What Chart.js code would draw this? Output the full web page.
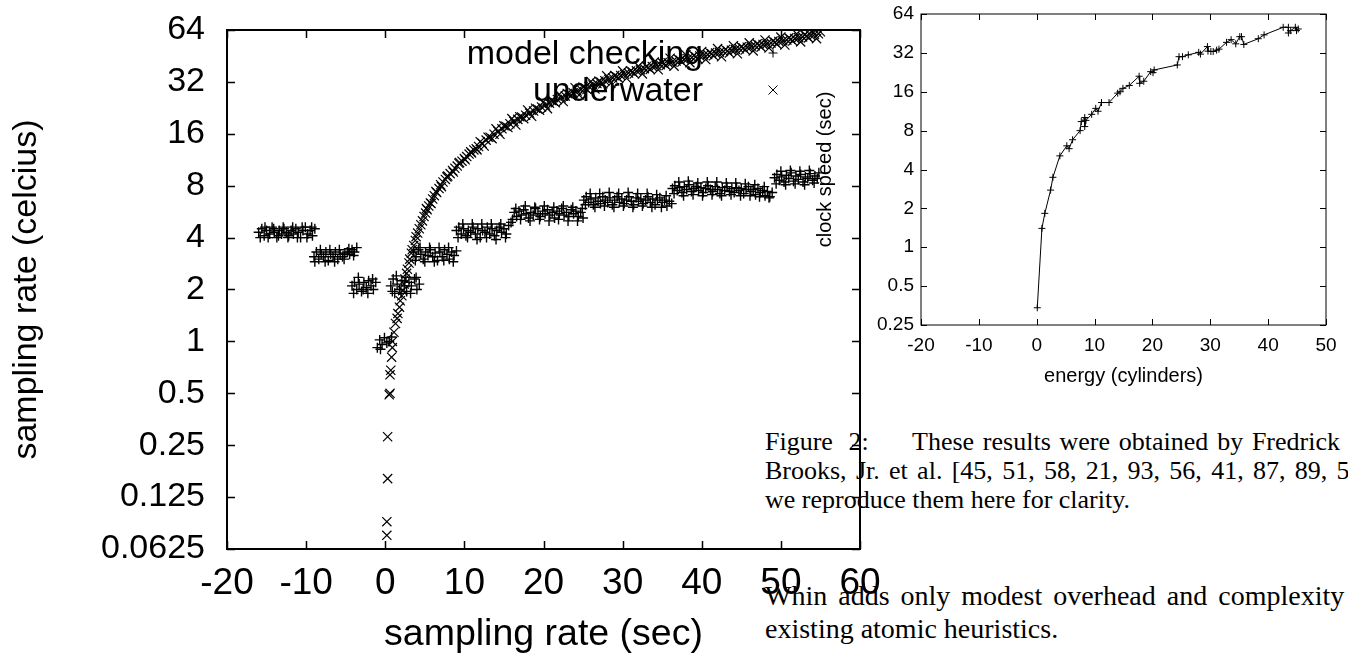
<!DOCTYPE html>
<html>
<head>
<meta charset="utf-8">
<script src="https://cdn.jsdelivr.net/npm/chart.js@4.4.1/dist/chart.umd.min.js"></script>
<style>
  html, body { margin: 0; padding: 0; background: #fff; }
  body { width: 1348px; height: 657px; overflow: hidden; position: relative; }
  canvas { position: absolute; }
  #mainChart { left: 0; top: 0; z-index: 2; }
  #sideChart { left: 790px; top: 0; z-index: 3; }
  .cap { position: absolute; left: 765px; font-family: "Liberation Serif", "Times New Roman", serif;
         font-size: 26px; line-height: 29px; white-space: nowrap; color: #000; z-index: 1; }
  .body { font-size: 28px; }
</style>
</head>
<body>
<div class="cap" style="top:427px; word-spacing:9px;">Figure 2:</div>
<div class="cap" style="top:427px; left:912px; width:428px; white-space:normal; text-align:justify; text-align-last:justify;">These results were obtained by Fredrick</div>
<div class="cap" style="top:456px; word-spacing:2.8px;">Brooks, Jr. et al. [45, 51, 58, 21, 93, 56, 41, 87, 89, 53],</div>
<div class="cap" style="top:485px;">we reproduce them here for clarity.</div>
<div class="cap body" style="top:581px; word-spacing:4px;">Whin adds only modest overhead and complexity to</div>
<div class="cap body" style="top:614px;">existing atomic heuristics.</div>

<canvas id="mainChart" width="900" height="657"></canvas>
<canvas id="sideChart" width="558" height="400"></canvas>

<script>
  "use strict";

  // ---- main chart data ----
  var mainXTicks = [-20, -10, 0, 10, 20, 30, 40, 50, 60];
  var mainYTicks = [0.0625, 0.125, 0.25, 0.5, 1, 2, 4, 8, 16, 32, 64];
  var mainYLabels = ["0.0625", "0.125", "0.25", "0.5", "1", "2", "4", "8", "16", "32", "64"];
  var seriesNames = ["model checking", "underwater"];

  // "+" points (model checking)
  var checkingPts = [
    [-16.0,4.3],[-15.6,4.5],[-15.3,4.1],[-15.0,4.4],[-14.6,4.2],[-14.3,4.6],[-14.0,4.3],[-13.7,4.0],
    [-13.4,4.4],[-13.1,4.2],[-12.8,4.5],[-12.5,4.3],[-12.2,4.1],[-11.9,4.4],[-11.6,4.2],[-11.3,4.5],
    [-11.0,4.3],[-10.7,4.0],[-10.4,4.4],[-10.1,4.6],[-9.8,4.2],[-9.5,4.4],[-9.2,4.1],[-8.9,4.5],
    [-15.8,4.0],[-15.2,4.6],[-14.8,4.0],[-14.1,4.5],[-13.5,4.1],[-12.9,4.6],[-12.3,4.0],[-11.7,4.6],
    [-11.1,4.0],[-10.5,4.6],[-9.9,4.0],[-9.3,4.6],
    [-9.0,3.1],[-8.7,3.3],[-8.4,3.0],[-8.1,3.2],[-7.8,3.1],[-7.5,3.3],[-7.2,2.95],[-6.9,3.2],
    [-6.6,3.1],[-6.3,3.3],[-6.0,3.0],[-5.7,3.2],[-5.4,3.1],[-5.1,3.25],[-4.8,3.3],[-4.5,3.2],
    [-4.2,3.4],[-3.9,3.3],[-3.6,3.5],
    [-8.9,2.9],[-8.2,3.4],[-7.6,2.9],[-7.0,3.4],[-6.4,2.9],[-5.8,3.4],[-5.2,3.0],[-4.6,3.45],[-4.0,3.15],
    [-4.2,2.1],[-3.9,2.2],[-3.6,2.0],[-3.3,2.15],[-3.0,1.95],[-2.7,2.2],[-2.4,2.05],[-2.1,2.25],
    [-1.8,2.1],[-1.5,2.0],[-1.2,2.2],
    [-4.0,1.9],[-3.4,2.35],[-2.8,2.0],[-2.2,1.9],[-1.6,2.3],
    [-1.0,0.92],[-0.7,1.02],[-0.4,0.96],[-0.1,1.05],[0.2,0.98],[0.5,1.0],[0.8,1.06],[-0.6,0.9],
    [0.7,2.1],[1.0,2.3],[1.2,1.9],[1.5,2.15],[1.8,2.0],[2.1,2.25],[2.4,2.1],[2.7,1.95],
    [3.0,2.2],[3.3,2.1],[3.7,2.3],[4.0,2.0],[4.3,2.15],
    [0.9,1.95],[1.4,2.4],[2.0,1.9],[2.6,2.35],[3.2,1.9],[3.9,2.35],
    [3.6,3.3],[3.9,3.1],[4.2,3.4],[4.5,3.2],[4.8,3.0],[5.1,3.3],[5.4,3.15],[5.7,3.4],
    [6.0,3.1],[6.3,3.25],[6.6,2.95],[6.9,3.3],[7.2,3.1],[7.5,3.4],[7.8,3.2],[8.1,3.0],
    [8.4,3.3],[8.7,3.15],[9.0,3.35],
    [3.8,2.95],[4.4,3.5],[5.0,2.9],[5.6,3.5],[6.2,2.9],[6.8,3.5],[7.4,2.95],[8.0,3.5],[8.6,2.9],
    [9.0,4.4],[9.3,4.6],[9.6,4.2],[9.9,4.5],[10.2,4.1],[10.5,4.4],[10.8,4.3],[11.1,4.6],
    [11.4,4.2],[11.7,4.5],[12.0,4.0],[12.3,4.4],[12.6,4.3],[12.9,4.6],[13.2,4.2],[13.5,4.5],
    [13.8,4.1],[14.1,4.4],[14.4,4.6],[14.7,4.3],[15.0,4.5],[15.3,4.2],[15.6,4.7],[15.9,4.9],[16.1,5.1],
    [9.2,4.0],[9.8,4.8],[10.4,4.0],[11.0,4.8],[11.6,3.9],[12.2,4.8],[12.8,4.0],[13.4,4.8],
    [14.0,3.9],[14.6,4.8],[15.2,4.0],
    [16.3,5.6],[16.6,5.3],[16.9,5.7],[17.2,5.4],[17.5,5.8],[17.8,5.5],[18.1,5.2],[18.4,5.6],
    [18.7,5.4],[19.0,5.9],[19.3,5.5],[19.6,5.3],[19.9,5.7],[20.2,5.5],[20.5,5.8],[20.8,5.4],
    [21.1,5.6],[21.4,5.2],[21.7,5.7],[22.0,5.5],[22.3,5.9],[22.6,5.4],[22.9,5.6],[23.2,5.3],
    [23.5,5.8],[23.8,5.5],[24.1,5.7],[24.4,5.3],[24.7,5.6],[25.0,5.2],
    [16.5,5.9],[17.1,5.1],[17.7,6.1],[18.3,5.0],[18.9,6.0],[19.5,5.1],[20.1,6.1],[20.7,5.0],
    [21.3,6.0],[21.9,5.1],[22.5,6.1],[23.1,5.0],[23.7,6.0],[24.3,5.0],[24.9,5.9],
    [25.1,6.6],[25.4,6.9],[25.7,6.4],[26.0,6.7],[26.3,6.2],[26.6,6.8],[26.9,6.5],[27.2,6.3],
    [27.5,6.9],[27.8,6.6],[28.1,6.4],[28.4,6.8],[28.7,6.2],[29.0,6.6],[29.3,6.9],[29.6,6.4],
    [29.9,6.7],[30.2,6.3],[30.5,6.6],[30.8,6.9],[31.1,6.5],[31.4,6.2],[31.7,6.8],[32.0,6.5],
    [32.3,6.7],[32.6,6.3],[32.9,6.6],[33.2,6.9],[33.5,6.4],[33.8,6.7],[34.1,6.2],[34.4,6.6],
    [34.7,6.8],[35.0,6.4],[35.3,6.6],[35.6,6.1],[35.9,6.5],[36.2,6.3],
    [25.3,6.2],[25.9,7.2],[26.5,6.0],[27.1,7.2],[27.7,6.1],[28.3,7.3],[28.9,6.0],[29.5,7.2],
    [30.1,6.1],[30.7,7.3],[31.3,6.0],[31.9,7.2],[32.5,6.1],[33.1,7.2],[33.7,6.0],[34.3,7.1],
    [34.9,6.0],[35.5,7.0],
    [36.3,7.7],[36.6,8.0],[36.9,7.5],[37.2,7.8],[37.5,7.3],[37.8,7.9],[38.1,7.6],[38.4,8.1],
    [38.7,7.4],[39.0,7.7],[39.3,7.9],[39.6,7.5],[39.9,7.8],[40.2,7.3],[40.5,7.7],[40.8,8.0],
    [41.1,7.6],[41.4,7.4],[41.7,7.9],[42.0,7.6],[42.3,7.2],[42.6,7.8],[42.9,7.5],[43.2,7.9],
    [43.5,7.4],[43.8,7.7],[44.1,7.3],[44.4,7.8],[44.7,7.5],[45.0,7.7],[45.3,7.2],[45.6,7.6],
    [45.9,7.9],[46.2,7.4],[46.5,7.6],[46.8,7.1],[47.1,7.7],[47.4,7.3],[47.7,7.5],[48.0,7.0],
    [48.3,7.4],[48.6,6.9],[48.9,7.3],
    [36.5,7.2],[37.1,8.4],[37.7,7.0],[38.3,8.5],[38.9,7.1],[39.5,8.3],[40.1,7.0],[40.7,8.4],
    [41.3,7.1],[41.9,8.4],[42.5,7.0],[43.1,8.3],[43.7,7.1],[44.3,8.3],[44.9,7.0],[45.5,8.2],
    [46.1,7.0],[46.7,8.1],[47.3,6.9],[47.9,7.9],[48.5,6.8],
    [49.2,8.9],[49.5,9.3],[49.8,8.6],[50.1,9.0],[50.4,8.4],[50.7,9.2],[51.0,8.8],[51.3,9.5],
    [51.6,8.5],[51.9,9.1],[52.2,8.7],[52.5,9.3],[52.8,8.4],[53.1,9.0],[53.4,8.8],[53.7,9.4],
    [54.0,8.6],[54.3,9.1],[54.6,8.8],
    [49.4,8.2],[50.0,9.7],[50.6,8.1],[51.2,9.8],[51.8,8.2],[52.4,9.7],[53.0,8.1],[53.6,9.8],
    [54.2,8.3],[54.8,9.5]
  ];

  // "x" points (underwater)
  var underwaterPts = [
    [0.2,0.075],[0.2,0.09],[0.3,0.16],[0.3,0.28],[0.5,0.49],[0.6,0.5],[0.6,0.64],[0.7,0.68],
    [0.8,0.81],[0.9,0.92],[0.9,1.0],[1.1,1.13],[1.3,1.27],
    [1.5,1.36],[1.6,1.45],[1.8,1.58],[1.9,1.72],[2.1,1.84],[2.2,1.97],[2.4,2.15],[2.5,2.3],
    [2.7,2.48],[2.8,2.62],[3.0,2.85],[3.1,3.0],[3.3,3.25],[3.4,3.4],[3.6,3.6],[3.8,3.85],
    [3.9,4.05],[4.1,4.25],[4.3,4.5],[4.5,4.75],[4.7,5.0],[4.9,5.3],[5.1,5.55],[5.3,5.8],
    [5.5,6.1],[5.7,6.35],[6.0,6.7],[6.2,7.0],[6.5,7.3],[6.8,7.7],[7.0,8.1],[7.3,8.4],
    [7.6,8.7],[7.9,9.1],[8.2,9.4],[8.5,9.8],[8.8,10.1],[9.1,10.4],[9.4,10.9],[9.7,11.1],
    [10.0,11.5],[10.3,11.8],[10.6,12.2],[10.9,12.4],[11.2,12.9],[11.5,13.1],[11.8,13.5],
    [5.2,5.9],[5.8,6.3],[6.4,7.4],[7.1,7.9],[7.8,9.0],[8.6,9.6],[9.3,10.8],[10.1,11.3],
    [10.8,12.6],[11.6,12.9],
    [12.0,14.4],[12.5,13.6],[13.0,15.3],[13.5,15.0],[14.0,17.1],[14.5,15.9],[15.0,17.8],[15.5,17.4],
    [16.0,19.6],[16.5,18.0],[17.0,20.1],[17.5,19.6],[18.0,22.0],[18.5,20.2],[19.0,22.5],[19.5,21.9],
    [20.0,24.5],[20.5,22.4],[21.0,25.0],[21.5,24.2],[22.0,27.1],[22.5,24.6],[23.0,27.4],[23.5,26.6],
    [24.0,29.6],[24.5,26.9],[25.0,29.9],[25.5,28.9],[26.0,32.2],[26.5,29.1],[27.0,32.3],[27.5,31.2],
    [28.0,34.7],[28.5,31.4],[29.0,34.8],[29.5,33.6],[30.0,37.1],[30.5,33.6],[31.0,37.0],[31.5,35.7],
    [32.0,39.5],[32.5,35.6],[33.0,39.3],[33.5,37.8],[34.0,41.8],[34.5,37.6],[35.0,41.4],[35.5,39.8],
    [36.0,43.9],[36.5,39.5],[37.0,43.5],[37.5,41.7],[38.0,46.0],[38.5,41.4],[39.0,45.5],[39.5,43.6],
    [40.0,48.0],[40.5,43.1],[41.0,47.4],[41.5,45.4],[42.0,49.9],[42.5,44.8],[43.0,49.3],[43.5,47.1],
    [44.0,51.9],[44.5,46.6],[45.0,51.1],[45.5,49.0],[46.0,53.9],[46.5,48.4],[47.0,53.2],[47.5,50.9],
    [48.0,56.0],[48.5,50.3],[49.0,55.2],[49.5,53.0],[50.0,58.2],[50.5,52.4],[51.0,57.6],[51.5,55.2],
    [52.0,60.8],[52.5,54.6],[53.0,60.0],[53.5,57.6],[54.0,63.0],[54.5,57.0],[55.0,62.5],
    [12.25,14.1],[12.75,14.7],[13.25,15.3],[13.75,15.9],[14.25,16.5],[14.75,17.1],[15.25,17.7],
    [15.75,18.3],[16.25,18.9],[16.75,19.4],[17.25,20.0],[17.75,20.5],[18.25,21.1],[18.75,21.7],
    [19.25,22.3],[19.75,22.9],[20.25,23.5],[20.75,24.1],[21.25,24.7],[21.75,25.3],[22.25,25.9],
    [22.75,26.5],[23.25,27.1],[23.75,27.7],[24.25,28.3],[24.75,28.9],[25.25,29.5],[25.75,30.1],
    [26.25,30.7],[26.75,31.3],[27.25,31.9],[27.75,32.5],[28.25,33.1],[28.75,33.7],[29.25,34.3],
    [29.75,34.9],[30.25,35.4],[30.75,36.0],[31.25,36.5],[31.75,37.1],[32.25,37.6],[32.75,38.2],
    [33.25,38.7],[33.75,39.3],[34.25,39.8],[34.75,40.3],[35.25,40.8],[35.75,41.3],[36.25,41.8],
    [36.75,42.3],[37.25,42.8],[37.75,43.3],[38.25,43.8],[38.75,44.3],[39.25,44.8],[39.75,45.2],
    [40.25,45.7],[40.75,46.1],[41.25,46.6],[41.75,47.0],[42.25,47.5],[42.75,48.0],[43.25,48.4],
    [43.75,48.9],[44.25,49.4],[44.75,49.8],[45.25,50.3],[45.75,50.8],[46.25,51.3],[46.75,51.8],
    [47.25,52.3],[47.75,52.8],[48.25,53.3],[48.75,53.8],[49.25,54.3],[49.75,54.9],[50.25,55.4],
    [50.75,56.0],[51.25,56.6],[51.75,57.2],[52.25,57.8],[52.75,58.4],[53.25,59.0],[53.75,59.7],
    [54.25,60.3],[54.75,60.9]
  ];

  // ---- side chart data ----
  var sideXTicks = [-20, -10, 0, 10, 20, 30, 40, 50];
  var sideYTicks = [0.25, 0.5, 1, 2, 4, 8, 16, 32, 64];
  var sideYLabels = ["0.25", "0.5", "1", "2", "4", "8", "16", "32", "64"];
  var clockPts = [
    [0.1,0.34],[0.9,1.4],[1.4,1.83],[2.4,2.77],[2.8,3.48],[4.0,5.1],[5.2,6.1],[5.6,5.8],
    [6.2,6.8],[7.5,8.0],[7.7,9.4],[8.3,10.1],[8.3,8.6],[8.5,9.6],[9.5,10.7],[10.2,11.9],
    [10.6,11.3],[11.2,13.2],[12.5,13.2],[14.0,15.6],[14.4,16.0],[14.9,17.0],[16.0,17.9],
    [17.7,21.1],[17.8,18.6],[18.5,19.3],[19.7,22.9],[20.1,22.5],[20.3,23.6],[24.3,25.8],
    [24.6,29.9],[25.2,29.9],[26.2,30.9],[28.0,32.3],[28.3,31.3],[29.5,35.8],[29.6,33.0],
    [30.1,32.8],[30.5,32.8],[31.1,33.6],[31.5,34.2],[32.8,38.6],[33.6,40.5],[34.4,37.6],
    [35.1,42.7],[35.4,42.7],[35.8,37.2],[38.3,41.2],[39.3,44.1],[42.6,50.5],[43.5,50.5],
    [43.5,45.6],[43.9,47.6],[44.7,50.5],[44.9,47.6],[45.2,49.0]
  ];

  var SANS = '"Liberation Sans", Arial, Helvetica, sans-serif';
  var toXY = function (p) { return { x: p[0], y: p[1] }; };

  // Draws the box round the plot and gnuplot-style inward ticks on all sides
  var framePlugin = {
    id: "frame",
    afterDatasetsDraw: function (chart, args, opts) {
      var ctx = chart.ctx, a = chart.chartArea, sx = chart.scales.x, sy = chart.scales.y;
      ctx.save();
      ctx.strokeStyle = "#000";
      ctx.beginPath();
      sx.ticks.forEach(function (t) {
        var px = Math.round(sx.getPixelForValue(t.value)) + 0.5;
        ctx.moveTo(px, a.bottom); ctx.lineTo(px, a.bottom - opts.len);
        ctx.moveTo(px, a.top); ctx.lineTo(px, a.top + opts.len);
      });
      sy.ticks.forEach(function (t) {
        var py = Math.round(sy.getPixelForValue(t.value)) + 0.5;
        ctx.moveTo(a.left, py); ctx.lineTo(a.left + opts.len, py);
        ctx.moveTo(a.right, py); ctx.lineTo(a.right - opts.len, py);
      });
      ctx.lineWidth = opts.tickWidth;
      ctx.stroke();
      ctx.lineWidth = opts.width;
      ctx.strokeRect(a.left, a.top, a.right - a.left, a.bottom - a.top);
      ctx.restore();
    }
  };

  // gnuplot key: right aligned text with the marker sample on its right
  var keyPlugin = {
    id: "key",
    beforeDatasetsDraw: function (chart, args, opts) {
      var ctx = chart.ctx, a = chart.chartArea;
      ctx.save();
      ctx.font = opts.size + "px " + SANS;
      ctx.fillStyle = "#000";
      ctx.textAlign = "right";
      ctx.textBaseline = "middle";
      chart.data.datasets.forEach(function (ds, i) {
        var y = a.top + opts.top + i * opts.gap;
        ctx.fillText(ds.label, a.right - opts.textInset, y);
        var mx = a.right - opts.markInset, my = y - 2, r = 4.5;
        ctx.beginPath();
        if (ds.pointStyle === "cross") {
          ctx.moveTo(mx - r, my); ctx.lineTo(mx + r, my);
          ctx.moveTo(mx, my - r); ctx.lineTo(mx, my + r);
        } else {
          ctx.moveTo(mx - r, my - r); ctx.lineTo(mx + r, my + r);
          ctx.moveTo(mx - r, my + r); ctx.lineTo(mx + r, my - r);
        }
        ctx.lineWidth = 1;
        ctx.strokeStyle = "#000";
        ctx.stroke();
      });
      ctx.restore();
    }
  };

  // keep the plot box exactly where the layout padding puts it
  function noScalePadding(s) {
    s.paddingTop = 0; s.paddingBottom = 0; s.paddingLeft = 0; s.paddingRight = 0;
  }

  Chart.defaults.color = "#000";
  Chart.defaults.font.family = SANS;

  new Chart(document.getElementById("mainChart"), {
    type: "scatter",
    data: {
      datasets: [
        {
          label: seriesNames[0],
          data: checkingPts.map(toXY),
          pointStyle: "cross",
          pointRadius: 5,
          borderWidth: 1.4,
          borderColor: "#000",
          backgroundColor: "#000",
        },
        {
          label: seriesNames[1],
          data: underwaterPts.map(toXY),
          pointStyle: "crossRot",
          pointRadius: 6.5,
          borderWidth: 1.2,
          borderColor: "#000",
          backgroundColor: "#000",
        },
      ],
    },
    options: {
      responsive: false,
      animation: false,
      devicePixelRatio: 1,
      layout: { padding: { left: 0, right: 40, top: 30, bottom: 0 } },
      plugins: {
        legend: { display: false },
        tooltip: { enabled: false },
        frame: { width: 2, len: 8, tickWidth: 1.5 },
        key: { size: 34, top: 25, gap: 37, textInset: 157, markInset: 87 },
      },
      scales: {
        x: {
          type: "linear",
          min: -20,
          max: 60,
          afterBuildTicks: function (s) { s.ticks = mainXTicks.map(function (v) { return { value: v }; }); },
          afterFit: function (s) { s.height = 108; noScalePadding(s); },
          grid: { display: false, drawTicks: false },
          border: { display: false },
          ticks: { font: { size: 37 }, padding: 13, maxRotation: 0, autoSkip: false,
                   callback: function (v) { return String(v); } },
          title: { display: true, text: "sampling rate (sec)", font: { size: 37.5 }, padding: { bottom: 0 } },
        },
        y: {
          type: "logarithmic",
          min: 0.0625,
          max: 64,
          afterBuildTicks: function (s) { s.ticks = mainYTicks.map(function (v) { return { value: v }; }); },
          afterFit: function (s) { s.width = 227; noScalePadding(s); },
          grid: { display: false, drawTicks: false },
          border: { display: false },
          ticks: { font: { size: 34 }, padding: 22, autoSkip: false,
                   callback: function (v, i) { return mainYLabels[i]; } },
          title: { display: true, text: "sampling rate (celcius)", font: { size: 34 }, padding: { top: 6 } },
        },
      },
    },
    plugins: [framePlugin, keyPlugin],
  });

  new Chart(document.getElementById("sideChart"), {
    type: "scatter",
    data: {
      datasets: [
        {
          label: "clock speed",
          data: clockPts.map(toXY),
          showLine: true,
          pointStyle: "cross",
          pointRadius: 3.5,
          borderWidth: 1,
          borderColor: "#000",
          backgroundColor: "#000",
        },
      ],
    },
    options: {
      responsive: false,
      animation: false,
      devicePixelRatio: 1,
      layout: { padding: { left: 0, right: 22, top: 14, bottom: 0 } },
      plugins: {
        legend: { display: false },
        tooltip: { enabled: false },
        frame: { width: 1, len: 6, tickWidth: 1 },
      },
      scales: {
        x: {
          type: "linear",
          min: -20,
          max: 50,
          afterBuildTicks: function (s) { s.ticks = sideXTicks.map(function (v) { return { value: v }; }); },
          afterFit: function (s) { s.height = 75; noScalePadding(s); },
          grid: { display: false, drawTicks: false },
          border: { display: false },
          ticks: { font: { size: 19 }, padding: 9, maxRotation: 0, autoSkip: false,
                   callback: function (v) { return String(v); } },
          title: { display: true, text: "energy (cylinders)", font: { size: 20 }, padding: { bottom: 12 } },
        },
        y: {
          type: "logarithmic",
          min: 0.25,
          max: 64,
          afterBuildTicks: function (s) { s.ticks = sideYTicks.map(function (v) { return { value: v }; }); },
          afterFit: function (s) { s.width = 131; noScalePadding(s); },
          grid: { display: false, drawTicks: false },
          border: { display: false },
          ticks: { font: { size: 19 }, padding: 7, autoSkip: false,
                   callback: function (v, i) { return sideYLabels[i]; } },
          title: { display: true, text: "clock speed (sec)", font: { size: 20 }, padding: { top: 23 } },
        },
      },
    },
    plugins: [framePlugin],
  });
</script>
</body>
</html>
